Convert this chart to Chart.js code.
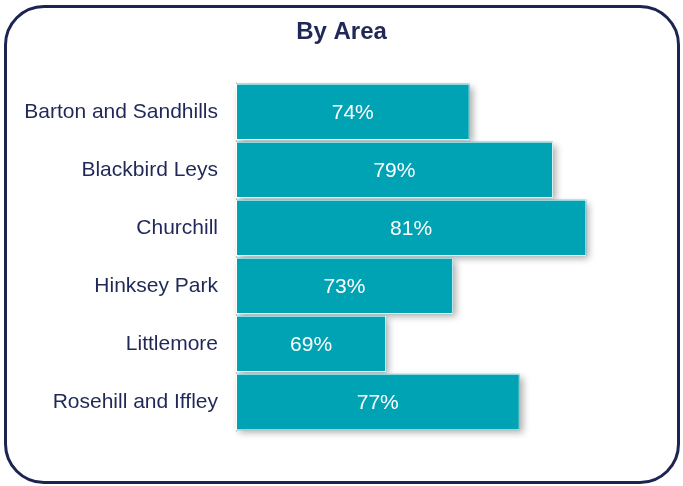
<!DOCTYPE html>
<html>
<head>
<meta charset="utf-8">
<script src="https://cdn.jsdelivr.net/npm/chart.js@4.4.1/dist/chart.umd.min.js"></script>
<style>
  html, body { margin: 0; padding: 0; background: #ffffff; }
  #frame {
    position: absolute; left: 4px; top: 5px; width: 676px; height: 479px;
    box-sizing: border-box; border: 3px solid #1c2452; border-radius: 40px;
  }
  #chart { position: absolute; left: 0; top: 0; }
</style>
</head>
<body>
<div id="frame"></div>
<canvas id="chart" width="683" height="486"></canvas>
<script>
// ——— Satisfaction by area (horizontal bars) ———
const AREAS = [
  "Barton and Sandhills",
  "Blackbird Leys",
  "Churchill",
  "Hinksey Park",
  "Littlemore",
  "Rosehill and Iffley"
];
const VALUES = [74, 79, 81, 73, 69, 77];

// value axis is hidden; bars start at 60%
const AXIS_MIN = 60;
const AXIS_MAX = 86.8;

const NAVY = "#1f2856";
const TEAL = "#00a3b4";
const FONT = "'Liberation Sans', Arial, sans-serif";

// soft drop shadow: paint each bar's box with a shadow before the bars go on top
const barShadow = {
  id: "barShadow",
  beforeDatasetsDraw(chart) {
    const ctx = chart.ctx;
    const meta = chart.getDatasetMeta(0);
    ctx.save();
    ctx.shadowColor = "rgba(0, 0, 0, 0.32)";
    ctx.shadowBlur = 7;
    ctx.shadowOffsetX = 3;
    ctx.shadowOffsetY = 3;
    ctx.fillStyle = TEAL;
    meta.data.forEach((bar) => {
      const { x, y, base, height } = bar.getProps(["x", "y", "base", "height"], true);
      ctx.fillRect(base, y - height / 2, x - base, height);
    });
    ctx.restore();
  }
};

// percentage written in the middle of each bar
const barLabels = {
  id: "barLabels",
  afterDatasetsDraw(chart) {
    const ctx = chart.ctx;
    const meta = chart.getDatasetMeta(0);
    ctx.save();
    ctx.fillStyle = "#ffffff";
    ctx.font = "21px " + FONT;
    ctx.textAlign = "center";
    ctx.textBaseline = "middle";
    meta.data.forEach((bar, i) => {
      const cx = (bar.x + bar.base) / 2;
      ctx.fillText(VALUES[i] + "%", cx, bar.y + 1);
    });
    ctx.restore();
  }
};

new Chart(document.getElementById("chart"), {
  type: "bar",
  data: {
    labels: AREAS,
    datasets: [{
      data: VALUES,
      base: AXIS_MIN,
      backgroundColor: TEAL,
      borderColor: "#ffffff",
      borderWidth: 1,
      borderSkipped: false,
      categoryPercentage: 1,
      barPercentage: 0.97
    }]
  },
  options: {
    indexAxis: "y",
    responsive: false,
    animation: false,
    layout: { padding: { top: 18, right: 0, bottom: 55, left: 0 } },
    plugins: {
      legend: { display: false },
      tooltip: { enabled: false },
      title: {
        display: true,
        text: "By Area",
        color: NAVY,
        font: { family: FONT, size: 24, weight: "bold" },
        padding: { top: 0, bottom: 36 }
      }
    },
    scales: {
      x: { display: false, min: AXIS_MIN, max: AXIS_MAX },
      y: {
        afterFit(scale) { scale.width = 236; },
        grid: { display: false, drawTicks: false },
        border: { display: true, color: "#cdd7e2", width: 1 },
        ticks: { color: NAVY, padding: 18, font: { family: FONT, size: 21 } }
      }
    }
  },
  plugins: [barShadow, barLabels]
});
</script>
</body>
</html>
